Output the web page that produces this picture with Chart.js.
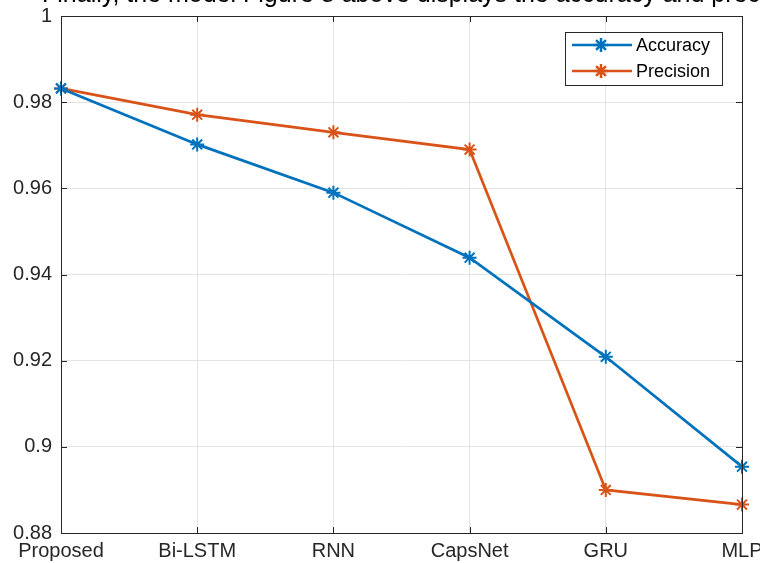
<!DOCTYPE html>
<html>
<head>
<meta charset="utf-8">
<script src="https://cdn.jsdelivr.net/npm/chart.js@4"></script>
<style>
  html, body { margin: 0; padding: 0; background: #fff; }
  #wrap { width: 760px; height: 563px; position: relative; }
</style>
</head>
<body>
<div id="wrap"><canvas id="chart" width="760" height="563"></canvas></div>
<script>
// data
const models = ['Proposed', 'Bi-LSTM', 'RNN', 'CapsNet', 'GRU', 'MLP'];
const accuracy = [0.9832, 0.9702, 0.9590, 0.9439, 0.9209, 0.8954];
const precision = [0.9832, 0.9771, 0.9730, 0.9690, 0.8900, 0.8866];
const yTicks = [0.88, 0.9, 0.92, 0.94, 0.96, 0.98, 1];

const blue = '#0072BD';
const orange = '#D95319';
const fontFamily = '"Liberation Sans", Arial, sans-serif';
// text line above the figure, only its lower edge is on the page
const caption = 'Finally, the model Figure 8 above displays the accuracy and precision of the';

// matlab-ish box, inward ticks, legend and the cut off caption line
const boxPlugin = {
  id: 'box',
  afterDraw(chart) {
    const { ctx, chartArea: a, scales } = chart;
    ctx.save();
    ctx.strokeStyle = '#262626';
    ctx.lineWidth = 1;
    ctx.strokeRect(a.left + 0.5, a.top + 0.5, a.right - a.left, a.bottom - a.top);
    ctx.beginPath();
    models.forEach((m, i) => {
      const x = Math.round(scales.x.getPixelForValue(i)) + 0.5;
      ctx.moveTo(x, a.top); ctx.lineTo(x, a.top + 6);
      ctx.moveTo(x, a.bottom); ctx.lineTo(x, a.bottom - 6);
    });
    yTicks.forEach(v => {
      const y = Math.round(scales.y.getPixelForValue(v)) + 0.5;
      ctx.moveTo(a.left, y); ctx.lineTo(a.left + 6, y);
      ctx.moveTo(a.right, y); ctx.lineTo(a.right - 6, y);
    });
    ctx.stroke();

    // legend
    const lx = 565, ly = 32, lw = 157, lh = 53;
    ctx.fillStyle = '#fff';
    ctx.fillRect(lx, ly, lw, lh);
    ctx.strokeStyle = '#262626';
    ctx.strokeRect(lx + 0.5, ly + 0.5, lw, lh);
    chart.data.datasets.forEach((ds, i) => {
      const y = ly + 13 + i * 26;
      ctx.strokeStyle = ds.borderColor;
      ctx.lineWidth = 2.5;
      ctx.beginPath();
      ctx.moveTo(572, y); ctx.lineTo(632, y);
      ctx.stroke();
      Chart.helpers.drawPoint(ctx, { pointStyle: 'star', radius: 7, borderWidth: 2 }, 601, y);
      ctx.fillStyle = '#000';
      ctx.font = '18px ' + fontFamily;
      ctx.textBaseline = 'middle';
      ctx.fillText(ds.label, 636, y + 1);
    });

    ctx.fillStyle = '#000';
    ctx.font = '25px ' + fontFamily;
    ctx.textBaseline = 'alphabetic';
    ctx.fillText(caption, 42, 2);
    ctx.restore();
  }
};

new Chart(document.getElementById('chart'), {
  type: 'line',
  data: {
    labels: models,
    datasets: [
      {
        label: 'Accuracy',
        data: accuracy,
        borderColor: blue,
        backgroundColor: blue,
        borderWidth: 2.7,
        pointStyle: 'star',
        pointRadius: 7,
        pointBorderWidth: 2,
        tension: 0
      },
      {
        label: 'Precision',
        data: precision,
        borderColor: orange,
        backgroundColor: orange,
        borderWidth: 2.7,
        pointStyle: 'star',
        pointRadius: 7,
        pointBorderWidth: 2,
        tension: 0
      }
    ]
  },
  options: {
    responsive: false,
    animation: false,
    layout: { padding: { left: 0, right: 18, top: 16, bottom: 0 } },
    plugins: {
      legend: { display: false },
      tooltip: { enabled: false }
    },
    scales: {
      x: {
        offset: false,
        grid: { color: '#e3e3e3', drawTicks: false },
        border: { display: false },
        ticks: {
          padding: 6,
          color: '#262626',
          maxRotation: 0,
          autoSkip: false,
          font: { family: fontFamily, size: 20 }
        },
        afterFit(scale) {
          scale.height = 30;
          scale.paddingLeft = 0;
          scale.paddingRight = 0;
        }
      },
      y: {
        min: 0.88,
        max: 1,
        grid: { color: '#e3e3e3', drawTicks: false },
        border: { display: false },
        afterBuildTicks(scale) {
          scale.ticks = yTicks.map(v => ({ value: v }));
        },
        ticks: {
          padding: 9,
          color: '#262626',
          font: { family: fontFamily, size: 20 },
          callback: v => String(+v.toFixed(2))
        },
        afterFit(scale) {
          scale.width = 61;
          scale.paddingTop = 0;
          scale.paddingBottom = 0;
        }
      }
    }
  },
  plugins: [boxPlugin]
});
</script>
</body>
</html>
